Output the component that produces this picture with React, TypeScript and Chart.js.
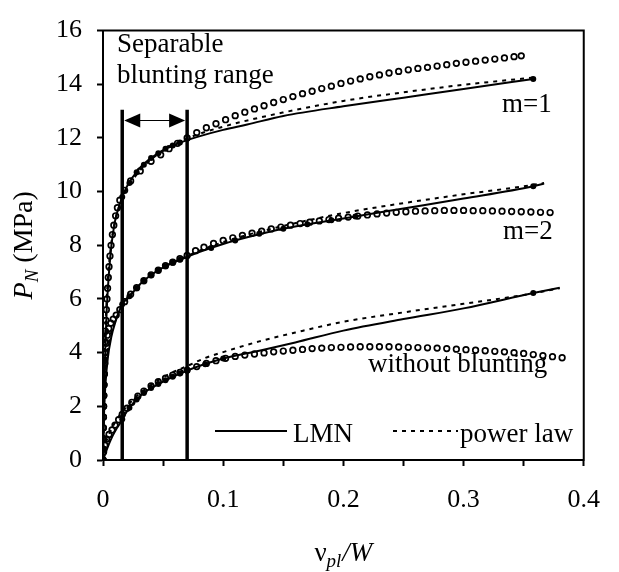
import React, { useEffect, useRef } from "react";
import { Chart, registerables } from "chart.js";

Chart.register(...registerables);

type Pt = [number, number];

// ---- axis ticks ----
const xTickValues = [0, 0.1, 0.2, 0.3, 0.4];
const xTickLabels = ["0", "0.1", "0.2", "0.3", "0.4"];
const yTickValues = [0, 2, 4, 6, 8, 10, 12, 14, 16];

// ---- m = 1 ----
const m1Lmn: Pt[] = [
  [0, 0], [0.001, 2.5], [0.002, 4.2], [0.003, 5.5], [0.005, 7.0], [0.007, 8.0], [0.01, 8.9],
  [0.013, 9.4], [0.016, 9.8], [0.02, 10.2], [0.03, 10.85], [0.04, 11.25], [0.05, 11.55],
  [0.06, 11.75], [0.07, 11.92], [0.08, 12.06], [0.1, 12.3], [0.12, 12.5], [0.15, 12.82],
  [0.2, 13.18], [0.25, 13.5], [0.3, 13.82], [0.358, 14.2],
];
const m1Power: Pt[] = [
  [0, 0], [0.001, 3.4], [0.002, 4.9], [0.004, 6.7], [0.007, 8.1], [0.01, 8.9], [0.016, 9.75],
  [0.02, 10.1], [0.03, 10.75], [0.04, 11.2], [0.05, 11.52], [0.07, 11.98], [0.1, 12.42],
  [0.15, 12.95], [0.2, 13.38], [0.25, 13.7], [0.3, 13.98], [0.358, 14.25],
];
const m1Circles: Pt[] = [
  [0, 0], [0.0001, 0.4], [0.0002, 0.8], [0.0003, 1.2], [0.0004, 1.6], [0.0005, 2.0], [0.0006, 2.4],
  [0.0008, 2.8], [0.001, 3.2], [0.0012, 3.6], [0.0014, 4.0], [0.0017, 4.4], [0.002, 4.8],
  [0.0024, 5.2], [0.0028, 5.6], [0.0033, 6.0], [0.0038, 6.4], [0.0044, 6.8], [0.005, 7.2],
  [0.0058, 7.6], [0.0067, 8.0], [0.0078, 8.4], [0.009, 8.75], [0.0105, 9.1], [0.012, 9.4],
  [0.014, 9.68], [0.018, 10.05], [0.023, 10.4], [0.031, 10.77], [0.04, 11.13], [0.048, 11.37],
  [0.055, 11.6], [0.062, 11.8], [0.07, 12.0], [0.078, 12.2], [0.086, 12.38], [0.094, 12.53],
  [0.102, 12.68], [0.11, 12.83], [0.118, 12.96], [0.126, 13.08], [0.134, 13.2], [0.142, 13.32],
  [0.15, 13.43], [0.158, 13.54], [0.166, 13.65], [0.174, 13.74], [0.182, 13.84], [0.19, 13.93],
  [0.198, 14.03], [0.206, 14.12], [0.214, 14.2], [0.222, 14.28], [0.23, 14.35], [0.238, 14.42],
  [0.246, 14.48], [0.254, 14.54], [0.262, 14.59], [0.27, 14.63], [0.278, 14.68], [0.286, 14.73],
  [0.294, 14.78], [0.302, 14.82], [0.31, 14.86], [0.318, 14.9], [0.326, 14.94], [0.334, 14.98],
  [0.342, 15.03], [0.348, 15.06],
];
const m1Dots: Pt[] = [
  [0.016, 9.8], [0.022, 10.32], [0.028, 10.72], [0.034, 11.0], [0.04, 11.25], [0.046, 11.43],
  [0.052, 11.6], [0.058, 11.72], [0.064, 11.83], [0.358, 14.2],
];

// ---- m = 2 ----
const m2Lmn: Pt[] = [
  [0, 0], [0.0005, 1.2], [0.001, 1.9], [0.002, 2.8], [0.004, 3.8], [0.007, 4.6], [0.01, 5.1],
  [0.016, 5.8], [0.025, 6.25], [0.031, 6.56], [0.038, 6.83], [0.045, 7.04], [0.051, 7.2],
  [0.058, 7.35], [0.065, 7.47], [0.07, 7.57], [0.08, 7.75], [0.1, 8.05], [0.12, 8.3],
  [0.15, 8.62], [0.2, 9.0], [0.25, 9.37], [0.3, 9.74], [0.358, 10.2], [0.367, 10.3],
];
const m2Power: Pt[] = [
  [0, 0], [0.001, 2.4], [0.003, 3.7], [0.006, 4.6], [0.01, 5.15], [0.016, 5.72], [0.025, 6.25],
  [0.04, 6.9], [0.07, 7.6], [0.1, 8.12], [0.15, 8.72], [0.2, 9.2], [0.25, 9.57], [0.3, 9.9],
  [0.358, 10.25], [0.367, 10.32],
];
const m2Circles: Pt[] = [
  [0, 0], [0.0001, 0.4], [0.0002, 0.8], [0.0003, 1.2], [0.0004, 1.6], [0.0005, 2.0], [0.0007, 2.4],
  [0.0009, 2.8], [0.0012, 3.2], [0.0015, 3.6], [0.002, 4.0], [0.0027, 4.35], [0.0036, 4.65],
  [0.0048, 4.9], [0.0065, 5.1], [0.0085, 5.25], [0.011, 5.4], [0.014, 5.6], [0.018, 5.9],
  [0.023, 6.18], [0.028, 6.42], [0.034, 6.68], [0.04, 6.9], [0.046, 7.07], [0.052, 7.24],
  [0.058, 7.37], [0.064, 7.5], [0.07, 7.62], [0.077, 7.8], [0.084, 7.93], [0.092, 8.07],
  [0.1, 8.18], [0.108, 8.28], [0.116, 8.37], [0.124, 8.45], [0.132, 8.53], [0.14, 8.61],
  [0.148, 8.68], [0.156, 8.75], [0.164, 8.81], [0.172, 8.86], [0.18, 8.91], [0.188, 8.96],
  [0.196, 9.01], [0.204, 9.05], [0.212, 9.09], [0.22, 9.13], [0.228, 9.17], [0.236, 9.2],
  [0.244, 9.23], [0.252, 9.25], [0.26, 9.27], [0.268, 9.28], [0.276, 9.29], [0.284, 9.3],
  [0.292, 9.3], [0.3, 9.3], [0.308, 9.29], [0.316, 9.29], [0.324, 9.28], [0.332, 9.27],
  [0.34, 9.26], [0.348, 9.25], [0.356, 9.24], [0.364, 9.23], [0.372, 9.22],
];
const m2Dots: Pt[] = [
  [0.016, 5.8], [0.022, 6.1], [0.028, 6.4], [0.034, 6.68], [0.04, 6.88], [0.046, 7.06],
  [0.052, 7.22], [0.058, 7.35], [0.064, 7.46], [0.09, 7.9], [0.11, 8.18], [0.13, 8.43],
  [0.15, 8.62], [0.17, 8.78], [0.19, 8.93], [0.21, 9.07], [0.358, 10.2],
];

// ---- without blunting ----
const wbLmn: Pt[] = [
  [0, 0], [0.002, 0.25], [0.005, 0.6], [0.008, 0.9], [0.011, 1.15], [0.0137, 1.33], [0.016, 1.52],
  [0.022, 1.95], [0.0325, 2.45], [0.045, 2.8], [0.059, 3.12], [0.07, 3.33], [0.08, 3.5],
  [0.1, 3.78], [0.13, 4.07], [0.16, 4.38], [0.2, 4.82], [0.25, 5.25], [0.3, 5.65], [0.358, 6.22],
  [0.38, 6.42],
];
const wbPower: Pt[] = [
  [0, 0], [0.002, 0.55], [0.005, 0.95], [0.01, 1.4], [0.016, 1.8], [0.025, 2.25], [0.04, 2.8],
  [0.055, 3.2], [0.07, 3.5], [0.085, 3.8], [0.1, 4.02], [0.13, 4.42], [0.16, 4.75], [0.2, 5.15],
  [0.25, 5.5], [0.3, 5.82], [0.35, 6.15], [0.38, 6.4],
];
const wbCircles: Pt[] = [
  [0, 0], [0.0005, 0.3], [0.0015, 0.55], [0.003, 0.78], [0.005, 0.95], [0.0075, 1.12], [0.01, 1.3],
  [0.013, 1.5], [0.016, 1.7], [0.02, 1.93], [0.024, 2.15], [0.029, 2.38], [0.034, 2.57],
  [0.04, 2.76], [0.046, 2.92], [0.052, 3.05], [0.058, 3.16], [0.064, 3.26], [0.07, 3.35],
  [0.078, 3.48], [0.086, 3.6], [0.094, 3.7], [0.102, 3.79], [0.11, 3.86], [0.118, 3.91],
  [0.126, 3.95], [0.134, 3.99], [0.142, 4.03], [0.15, 4.06], [0.158, 4.09], [0.166, 4.12],
  [0.174, 4.15], [0.182, 4.17], [0.19, 4.19], [0.198, 4.2], [0.206, 4.21], [0.214, 4.22],
  [0.222, 4.22], [0.23, 4.22], [0.238, 4.22], [0.246, 4.21], [0.254, 4.2], [0.262, 4.19],
  [0.27, 4.18], [0.278, 4.17], [0.286, 4.15], [0.294, 4.13], [0.302, 4.11], [0.31, 4.09],
  [0.318, 4.07], [0.326, 4.05], [0.334, 4.03], [0.342, 4.0], [0.35, 3.97], [0.358, 3.93],
  [0.366, 3.89], [0.374, 3.85], [0.382, 3.81],
];
const wbDots: Pt[] = [
  [0.016, 1.52], [0.022, 1.95], [0.028, 2.25], [0.034, 2.5], [0.04, 2.68], [0.046, 2.83],
  [0.052, 2.97], [0.058, 3.1], [0.064, 3.22], [0.07, 3.33], [0.085, 3.57], [0.1, 3.78],
  [0.358, 6.22],
];

// ---- separable blunting range ----
const bluntRange = [0.016, 0.07];
const bluntTop = 13.05;
const arrowLevel = 12.65;

// ---- texts ----
const rangeText = ["Separable", "blunting range"];
const groupText = ["m=1", "m=2", "without blunting"];
const legendText = ["LMN", "power law"];
const yTitle = ["P", "N", " (MPa)"];
const xTitle = ["\u03BD", "pl", "/W"];

const FAMILY = '"Liberation Serif", "Times New Roman", serif';

const pts = (a: Pt[]) => a.map(([x, y]) => ({ x, y }));

const solid = (a: Pt[]) => ({
  data: pts(a), borderColor: "#000", borderWidth: 2, pointRadius: 0, fill: false,
  cubicInterpolationMode: "monotone", order: 3,
});
const dashed = (a: Pt[]) => ({
  data: pts(a), borderColor: "#000", borderWidth: 2, borderDash: [4, 5], pointRadius: 0,
  fill: false, cubicInterpolationMode: "monotone", order: 3,
});
const circles = (a: Pt[]) => ({
  data: pts(a), showLine: false, pointRadius: 2.8, pointBorderWidth: 1.7,
  pointBackgroundColor: "rgba(0,0,0,0)", pointBorderColor: "#000", order: 2,
});
const dots = (a: Pt[]) => ({
  data: pts(a), showLine: false, pointRadius: 3, pointBorderWidth: 0,
  pointBackgroundColor: "#000", pointBorderColor: "#000", order: 1,
});
const vbar = (x: number) => ({
  data: [{ x, y: 0 }, { x, y: bluntTop }], borderColor: "#000", borderWidth: 3.5,
  pointRadius: 0, borderCapStyle: "butt", order: 0,
});

const decorPlugin = {
  id: "decor",
  afterDraw(chart: any) {
    const ctx: CanvasRenderingContext2D = chart.ctx;
    const { left, right, top, bottom } = chart.chartArea;
    const xs = chart.scales.x;
    const ys = chart.scales.y;
    ctx.save();
    ctx.strokeStyle = "#000";
    ctx.fillStyle = "#000";
    // frame top/right
    ctx.lineWidth = 2;
    ctx.beginPath();
    ctx.moveTo(left - 1, top);
    ctx.lineTo(right, top);
    ctx.lineTo(right, bottom + 1);
    ctx.stroke();

    // double arrow
    const ax1 = xs.getPixelForValue(bluntRange[0]) + 2;
    const ax2 = xs.getPixelForValue(bluntRange[1]) - 2;
    const ay = ys.getPixelForValue(arrowLevel);
    ctx.lineWidth = 1.2;
    ctx.beginPath();
    ctx.moveTo(ax1 + 10, ay);
    ctx.lineTo(ax2 - 10, ay);
    ctx.stroke();
    ctx.beginPath();
    ctx.moveTo(ax1, ay);
    ctx.lineTo(ax1 + 16, ay - 7);
    ctx.lineTo(ax1 + 16, ay + 7);
    ctx.closePath();
    ctx.fill();
    ctx.beginPath();
    ctx.moveTo(ax2, ay);
    ctx.lineTo(ax2 - 16, ay - 7);
    ctx.lineTo(ax2 - 16, ay + 7);
    ctx.closePath();
    ctx.fill();

    // texts
    ctx.textBaseline = "alphabetic";
    ctx.textAlign = "left";
    ctx.font = `27px ${FAMILY}`;
    ctx.fillText(rangeText[0], 117, 52);
    ctx.fillText(rangeText[1], 117, 83);
    ctx.fillText(groupText[0], 502, 112);
    ctx.fillText(groupText[1], 503, 239);
    ctx.fillText(groupText[2], 368, 372);
    ctx.fillText(legendText[0], 293, 442);
    ctx.fillText(legendText[1], 460, 442);

    // legend samples
    ctx.lineWidth = 2;
    ctx.beginPath();
    ctx.moveTo(215, 431);
    ctx.lineTo(287, 431);
    ctx.stroke();
    ctx.setLineDash([4, 5]);
    ctx.beginPath();
    ctx.moveTo(393, 431);
    ctx.lineTo(458, 431);
    ctx.stroke();
    ctx.setLineDash([]);

    // x title
    const f1 = `27px ${FAMILY}`;
    const fi = `italic 27px ${FAMILY}`;
    const fs = `italic 19px ${FAMILY}`;
    ctx.font = f1;
    const w0 = ctx.measureText(xTitle[0]).width;
    ctx.font = fs;
    const w1 = ctx.measureText(xTitle[1]).width;
    ctx.font = fi;
    const w2 = ctx.measureText(xTitle[2]).width;
    let sx = (left + right) / 2 - (w0 + w1 + w2 + 1) / 2;
    const by = 561;
    ctx.font = f1;
    ctx.fillText(xTitle[0], sx, by);
    sx += w0;
    ctx.font = fs;
    ctx.fillText(xTitle[1], sx, by + 6);
    sx += w1 + 1;
    ctx.font = fi;
    ctx.fillText(xTitle[2], sx, by);

    // y title (rotated)
    ctx.save();
    ctx.translate(32, (top + bottom) / 2);
    ctx.rotate(-Math.PI / 2);
    const fp = `italic 28px ${FAMILY}`;
    const fn = `italic 19px ${FAMILY}`;
    const fm = `28px ${FAMILY}`;
    ctx.font = fp;
    const p0 = ctx.measureText(yTitle[0]).width;
    ctx.font = fn;
    const p1 = ctx.measureText(yTitle[1]).width;
    ctx.font = fm;
    const p2 = ctx.measureText(yTitle[2]).width;
    let tx = -(p0 + p1 + p2) / 2;
    ctx.font = fp;
    ctx.fillText(yTitle[0], tx, 0);
    tx += p0;
    ctx.font = fn;
    ctx.fillText(yTitle[1], tx, 6);
    tx += p1;
    ctx.font = fm;
    ctx.fillText(yTitle[2], tx, 0);
    ctx.restore();

    ctx.restore();
  },
};

export default function App() {
  const ref = useRef<HTMLCanvasElement | null>(null);
  useEffect(() => {
    if (!ref.current) return;
    const chart = new Chart(ref.current, {
      type: "line",
      data: {
        datasets: [
          vbar(bluntRange[0]), vbar(bluntRange[1]),
          solid(m1Lmn), dashed(m1Power), circles(m1Circles), dots(m1Dots),
          solid(m2Lmn), dashed(m2Power), circles(m2Circles), dots(m2Dots),
          solid(wbLmn), dashed(wbPower), circles(wbCircles), dots(wbDots),
        ] as any,
      },
      options: {
        responsive: false,
        animation: false,
        events: [],
        layout: { padding: { top: 19, right: 20, left: 0, bottom: 0 } },
        plugins: { legend: { display: false }, tooltip: { enabled: false } },
        scales: {
          x: {
            type: "linear",
            min: 0,
            max: 0.4,
            afterFit: (s: any) => { s.height = 112; },
            ticks: {
              stepSize: 0.05,
              autoSkip: false,
              maxRotation: 0,
              padding: 19,
              color: "#000",
              font: { family: FAMILY, size: 26 },
              callback: (v: any) => {
                const i = xTickValues.findIndex((t) => Math.abs(t - Number(v)) < 1e-9);
                return i >= 0 ? xTickLabels[i] : "";
              },
            },
            grid: { drawOnChartArea: false, drawTicks: true, tickLength: 6, tickWidth: 2, color: "#000" },
            border: { display: true, color: "#000", width: 2 },
          },
          y: {
            type: "linear",
            min: 0,
            max: 16,
            afterFit: (s: any) => { s.width = 103; },
            ticks: {
              stepSize: 2,
              padding: 15,
              color: "#000",
              font: { family: FAMILY, size: 26 },
              callback: (v: any) => (yTickValues.includes(Number(v)) ? String(v) : ""),
            },
            grid: { drawOnChartArea: false, drawTicks: true, tickLength: 6, tickWidth: 2, color: "#000" },
            border: { display: true, color: "#000", width: 2 },
          },
        },
      } as any,
      plugins: [decorPlugin],
    });
    return () => chart.destroy();
  }, []);
  return (
    <div style={{ position: "fixed", left: 0, top: 0, width: 619, height: 572, background: "#fff" }}>
      <canvas ref={ref} width={619} height={572} style={{ width: 619, height: 572, display: "block" }} />
    </div>
  );
}
